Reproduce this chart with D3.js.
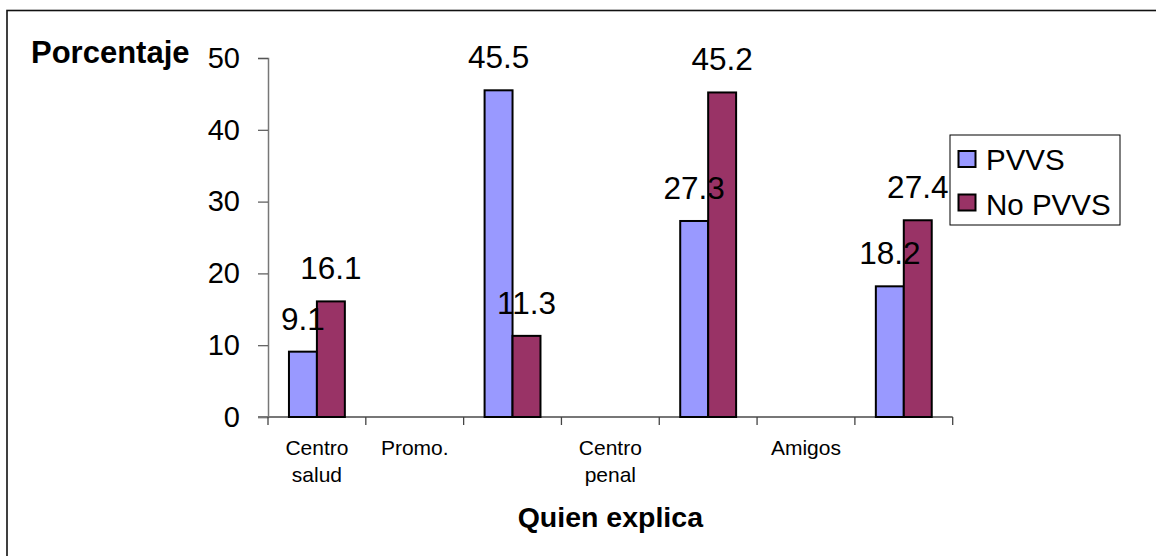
<!DOCTYPE html>
<html>
<head>
<meta charset="utf-8">
<script src="https://cdn.jsdelivr.net/npm/d3@7"></script>
<style>
  html, body { margin: 0; padding: 0; background: #fff; }
  svg { display: block; font-family: Arial, "Liberation Sans", sans-serif; }
</style>
</head>
<body>
<svg id="chart" width="1156" height="556"></svg>
<script>
// Who explains: share (%) per source, for PVVS and non-PVVS respondents
const categories = ["Centro salud", "Promo.", "", "Centro penal", "", "Amigos", ""];
const seriesNames = ["PVVS", "No PVVS"];
const pvvs   = [9.1, null, 45.5, null, 27.3, null, 18.2];
const noPvvs = [16.1, null, 11.3, null, 45.2, null, 27.4];
const yTicks = [0, 10, 20, 30, 40, 50];
const colors = ["#9999FF", "#993366"];

const svg = d3.select("#chart");

// Outer frame
svg.append("rect")
  .attr("x", 7).attr("y", 10.5)
  .attr("width", 1160).attr("height", 560)
  .attr("fill", "none").attr("stroke", "#111").attr("stroke-width", 1.6);

const plot = { left: 268, right: 952.7, top: 58, bottom: 417 };

const x = d3.scaleBand()
  .domain(d3.range(categories.length))
  .range([plot.left, plot.right])
  .paddingInner(0).paddingOuter(0);

const y = d3.scaleLinear().domain([0, 50]).range([plot.bottom, plot.top]);

// Two bars per category, gap 150% of a bar
const barW = x.bandwidth() / 3.5;
const sub = d3.scaleBand().domain(d3.range(seriesNames.length))
  .range([0, 2 * barW]);

// Y axis
const yAxis = svg.append("g")
  .attr("transform", `translate(${plot.left},0)`)
  .call(d3.axisLeft(y).tickValues(yTicks).tickSize(10).tickPadding(18));
yAxis.select(".domain").attr("stroke", "#777").attr("stroke-width", 1.5);
yAxis.selectAll(".tick line").attr("stroke", "#555").attr("stroke-width", 1.2);
yAxis.selectAll(".tick text")
  .attr("font-size", 29).attr("fill", "#000")
  .attr("font-family", "Arial, 'Liberation Sans', sans-serif");

// X axis: ticks on band boundaries
const xAxisG = svg.append("g").attr("transform", `translate(0,${plot.bottom})`);
xAxisG.append("line")
  .attr("x1", plot.left - 10).attr("x2", plot.right)
  .attr("stroke", "#777").attr("stroke-width", 2);
const bounds = d3.range(categories.length + 1).map(i =>
  i < categories.length ? x(i) : x(categories.length - 1) + x.bandwidth());
xAxisG.selectAll("line.tick")
  .data(bounds).join("line").attr("class", "tick")
  .attr("x1", d => d).attr("x2", d => d)
  .attr("y1", 0).attr("y2", 8)
  .attr("stroke", "#444").attr("stroke-width", 1.3);

// Category labels (wrapped on spaces)
const catLabels = xAxisG.selectAll("text.cat")
  .data(categories.map((c, i) => ({ c, i })).filter(d => d.c))
  .join("text").attr("class", "cat")
  .attr("text-anchor", "middle")
  .attr("font-size", 21).attr("fill", "#000");
catLabels.each(function(d) {
  const words = d.c.split(" ");
  const t = d3.select(this);
  words.forEach((w, k) => {
    t.append("tspan")
      .attr("x", x(d.i) + x.bandwidth() / 2)
      .attr("y", 38 + k * 26.5)
      .text(w);
  });
});

// Bars for every series first, then all value labels on top
const series = [pvvs, noPvvs];
const points = [];
series.forEach((vals, s) => {
  vals.forEach((v, i) => { if (v != null) points.push({ s, i, v }); });
});
const barX = d => x(d.i) + x.bandwidth() / 2 - barW + sub(d.s);

svg.append("g").selectAll("rect")
  .data(points).join("rect")
  .attr("x", barX)
  .attr("y", d => y(d.v))
  .attr("width", barW)
  .attr("height", d => y(0) - y(d.v))
  .attr("fill", d => colors[d.s])
  .attr("stroke", "#000").attr("stroke-width", 2);

svg.append("g").selectAll("text")
  .data(points).join("text")
  .attr("x", d => barX(d) + barW / 2)
  .attr("y", d => y(d.v) - 22)
  .attr("text-anchor", "middle")
  .attr("font-size", 31.5).attr("fill", "#000")
  .text(d => d.v.toFixed(1));

// Axis titles
svg.append("text")
  .attr("x", 31).attr("y", 63)
  .attr("font-size", 31).attr("font-weight", "bold")
  .text("Porcentaje");
svg.append("text")
  .attr("x", (plot.left + plot.right) / 2).attr("y", 527)
  .attr("text-anchor", "middle")
  .attr("font-size", 28.5).attr("font-weight", "bold")
  .text("Quien explica");

// Legend
const lg = svg.append("g").attr("transform", "translate(950,135)");
lg.append("rect").attr("width", 170).attr("height", 90)
  .attr("fill", "#fff").attr("stroke", "#000").attr("stroke-width", 1);
seriesNames.forEach((n, s) => {
  lg.append("rect")
    .attr("x", 8.5).attr("y", 16 + s * 43.5)
    .attr("width", 17).attr("height", 16)
    .attr("fill", colors[s]).attr("stroke", "#000").attr("stroke-width", 2);
  lg.append("text")
    .attr("x", 36).attr("y", 34.5 + s * 45.5)
    .attr("font-size", 29.5).attr("fill", "#000")
    .text(n);
});
</script>
</body>
</html>
